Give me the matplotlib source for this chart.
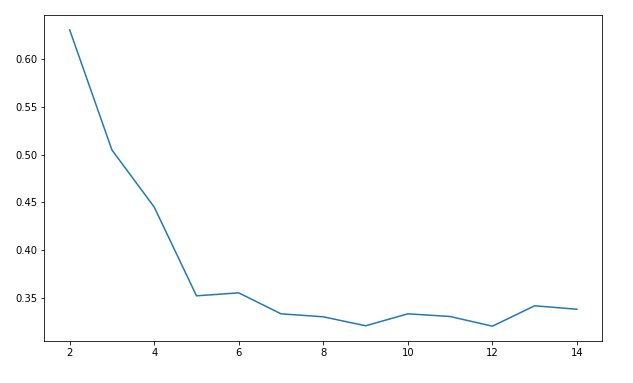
import matplotlib
matplotlib.use("Agg")
import matplotlib.pyplot as plt

k_values = [2, 3, 4, 5, 6, 7, 8, 9, 10, 11, 12, 13, 14]
scores = [0.6303, 0.5048, 0.4452, 0.3525, 0.3556, 0.3337, 0.3306,
          0.3212, 0.3337, 0.3309, 0.3208, 0.3421, 0.3385]

W, H = 633, 383
fig = plt.figure(figsize=(W / 72, H / 72), dpi=72)
ax = fig.add_axes([44.3 / W, 1 - 341 / H, (602.3 - 44.3) / W, (341 - 15) / H])
ax.plot(k_values, scores, color="#1f77b4", linewidth=1.5)
ax.set_xticks([2, 4, 6, 8, 10, 12, 14])
ax.set_yticks([0.35, 0.40, 0.45, 0.50, 0.55, 0.60])
ax.tick_params(labelsize=10)
fig.savefig("out.png", dpi=72)
